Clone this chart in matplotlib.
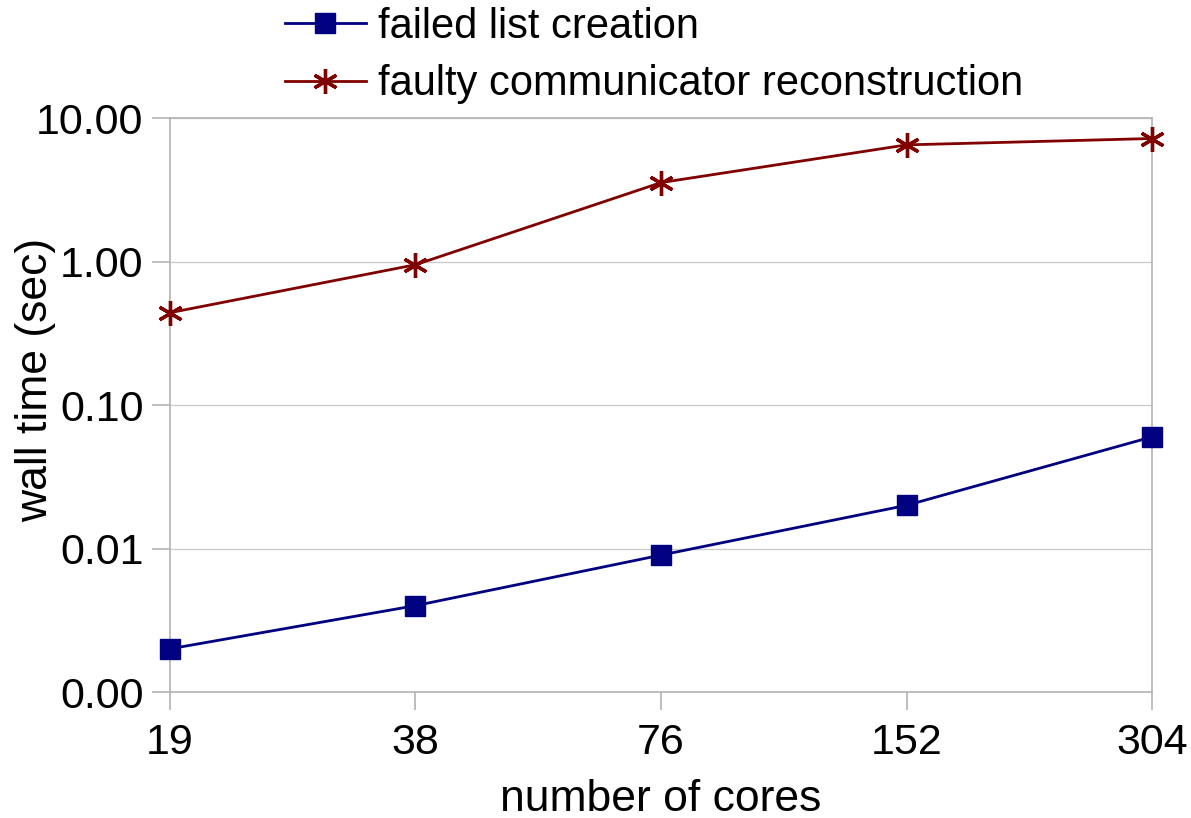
import matplotlib.pyplot as plt
from matplotlib.ticker import FixedLocator, FuncFormatter, NullLocator

cores = ["19", "38", "76", "152", "304"]
failed_list = [0.002, 0.004, 0.009, 0.020, 0.060]
faulty_comm = [0.44, 0.95, 3.55, 6.5, 7.2]

plt.rcParams["font.family"] = ["Liberation Sans", "DejaVu Sans"]

fig = plt.figure(figsize=(11.91, 8.18), dpi=100)
ax = fig.add_axes([0.1427, 0.154, 0.8246, 0.7017])

x = range(len(cores))
ax.plot(x, failed_list, color="#000080", linewidth=2.0, marker="s",
        markersize=15, clip_on=False, zorder=3, label="failed list creation")
ax.plot(x, faulty_comm, color="#800000", linewidth=2.0, marker=(6, 2, 0),
        markersize=18, markeredgewidth=2.4, clip_on=False, zorder=3,
        label="faulty communicator reconstruction")

ax.set_yscale("log")
ax.set_ylim(0.001, 10)
ax.set_xlim(0, len(cores) - 1)
ax.yaxis.set_major_locator(FixedLocator([0.001, 0.01, 0.1, 1, 10]))
ax.yaxis.set_minor_locator(NullLocator())
ax.yaxis.set_major_formatter(FuncFormatter(lambda v, p: f"{v:.2f}"))
ax.set_xticks(list(x))
ax.set_xticklabels(cores)

ax.grid(axis="y", color="#cccccc", linewidth=1)
ax.set_axisbelow(True)
for s in ax.spines.values():
    s.set_color("#b3b3b3")
    s.set_linewidth(1.2)
ax.tick_params(axis="both", length=13, width=1.2, color="#b3b3b3",
               labelsize=31)
ax.tick_params(axis="y", pad=6)
ax.tick_params(axis="x", pad=9)

ax.set_xlabel("number of cores", fontsize=32, labelpad=12)
ax.set_ylabel("wall time (sec)", fontsize=32, va="center")
ax.yaxis.set_label_coords(-0.1365, 0.544)

fig.legend(loc="upper left", bbox_to_anchor=(0.225, 1.012), frameon=False,
           fontsize=30, handlelength=1.95, handletextpad=0.28, labelspacing=0.42,
           borderaxespad=0)

fig.savefig("out.png", dpi=100)
